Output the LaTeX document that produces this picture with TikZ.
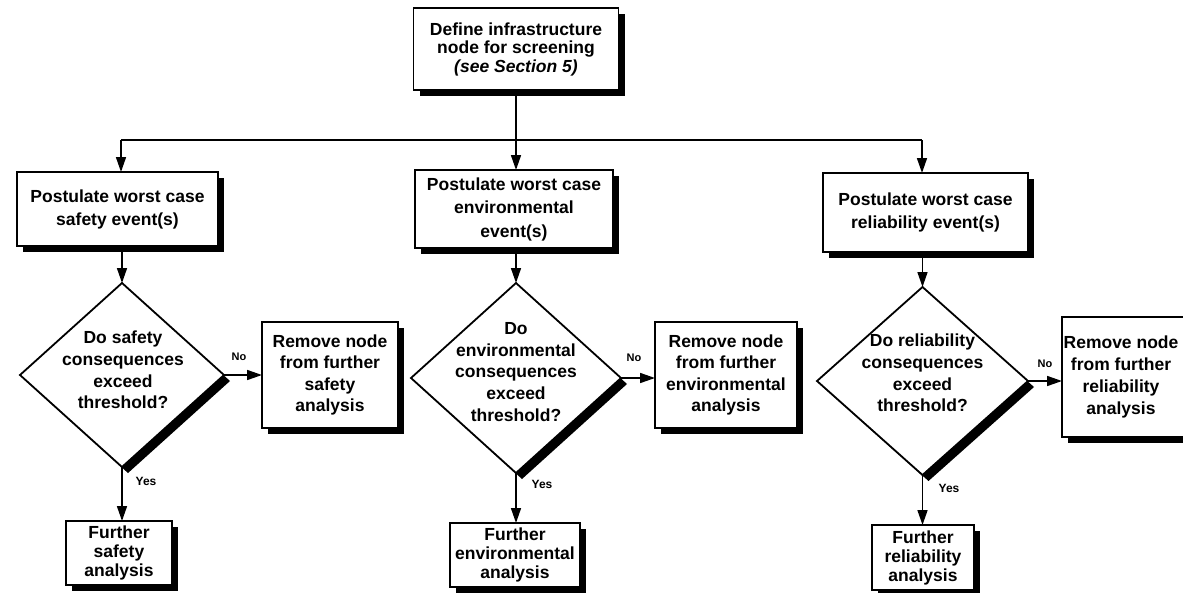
\documentclass[tikz,border=0pt]{standalone}
\usepackage{fontspec}
\setmainfont{Liberation Sans}
\usetikzlibrary{arrows.meta,shapes.geometric,shadows}

\begin{document}
\begin{tikzpicture}[x=1pt,y=-1pt,
  shade/.style={drop shadow={shadow xshift=6pt,shadow yshift=-6pt,opacity=1,fill=black}},
  box/.style={draw,line width=1.8pt,fill=white,shade,inner sep=0pt,outer sep=0pt,
    align=center,font=\bfseries\fontsize{17.5}{21.5}\selectfont},
  dia/.style={diamond,draw,line width=1.8pt,fill=white,shade,inner sep=0pt,outer sep=0pt},
  txt/.style={align=center,inner sep=0pt,font=\bfseries\fontsize{17.5}{21.7}\selectfont},
  lbl/.style={inner sep=0pt,font=\bfseries\fontsize{11}{12}\selectfont},
  conn/.style={line width=1.6pt},
  arr/.style={line width=1.6pt,-{Triangle[length=15pt,width=10pt]}}]

\clip (0,0) rectangle (1183,592);
\fill[white] (0,0) rectangle (1183,592);

% starting box
\node[box,minimum width=205pt,minimum height=82pt,
  font=\bfseries\fontsize{17.5}{18.5}\selectfont] (top) at (516,49)
  {Define infrastructure\\node for screening\\\textit{(see Section 5)}};

% event boxes
\node[box,minimum width=201pt,minimum height=74pt,
  font=\bfseries\fontsize{17.5}{23}\selectfont] (sf) at (117.5,209)
  {Postulate worst case\\safety event(s)};
\node[box,minimum width=198pt,minimum height=78pt,
  font=\bfseries\fontsize{17.5}{23.5}\selectfont] (ev) at (514,209)
  {Postulate worst case\\environmental\\event(s)};
\node[box,minimum width=205pt,minimum height=79pt,
  font=\bfseries\fontsize{17.5}{23}\selectfont] (rl) at (925.5,212.5)
  {Postulate worst case\\reliability event(s)};

% decisions
\node[dia,minimum width=204pt,minimum height=184pt] (d1) at (122,375) {};
\node[txt] (d1t) at (123,370) {Do safety\\consequences\\exceed\\threshold?};
\node[dia,minimum width=210pt,minimum height=190pt] (d2) at (516,378) {};
\node[txt] (d2t) at (516,372) {Do\\environmental\\consequences\\exceed\\threshold?};
\node[dia,minimum width=211pt,minimum height=188pt] (d3) at (922.5,381) {};
\node[txt] (d3t) at (922.5,373) {Do reliability\\consequences\\exceed\\threshold?};

% removal boxes
\node[box,minimum width=136pt,minimum height=106pt] (r1) at (330,375)
  {Remove node\\from further\\safety\\analysis};
\node[box,minimum width=142pt,minimum height=106pt] (r2) at (726,375)
  {Remove node\\from further\\environmental\\analysis};
% the last box runs past the right margin; its text is kept inside
\node[box,minimum width=138pt,minimum height=120pt] (r3) at (1131,377) {};
\node[txt] (r3t) at (1121,377)
  {Remove node\\from further\\reliability\\analysis};

% further analysis boxes
\node[box,minimum width=106pt,minimum height=64pt,
  font=\bfseries\fontsize{17.5}{19}\selectfont] (f1) at (119,553)
  {Further\\safety\\analysis};
\node[box,minimum width=130pt,minimum height=64pt,
  font=\bfseries\fontsize{17.5}{19}\selectfont] (f2) at (515,555)
  {Further\\environmental\\analysis};
\node[box,minimum width=102pt,minimum height=65pt,
  font=\bfseries\fontsize{17.5}{19}\selectfont] (f3) at (923,557.5)
  {Further\\reliability\\analysis};

% branch lines
\coordinate (jl) at (121,140);
\coordinate (jr) at (922,140);
\draw[conn] (jl) -- (jr);
\draw[arr] (top.south) -- (top.south |- ev.north);
\draw[arr] (jl) -- (jl |- sf.north);
\draw[arr] (jr) -- (jr |- rl.north);

\draw[arr] (d1.north |- sf.south) -- (d1.north);
\draw[arr] (d2.north |- ev.south) -- (d2.north);
\draw[arr] (d3.north |- rl.south) -- (d3.north);

% "No" branches
\draw[arr] (d1.east) -- (d1.east -| r1.west);
\draw[arr] (d2.east) -- (d2.east -| r2.west);
\draw[arr] (d3.east) -- (d3.east -| r3.west);
\node[lbl] (n1) at (239,357) {No};
\node[lbl] (n2) at (634,358) {No};
\node[lbl] (n3) at (1045,364) {No};

% "Yes" branches
\draw[arr] (d1.south) -- (d1.south |- f1.north);
\draw[arr] (d2.south) -- (d2.south |- f2.north);
\draw[arr] (d3.south) -- (d3.south |- f3.north);
\node[lbl,font=\bfseries\fontsize{12}{13}\selectfont] (y1) at (146,481) {Yes};
\node[lbl,font=\bfseries\fontsize{12}{13}\selectfont] (y2) at (542,484) {Yes};
\node[lbl,font=\bfseries\fontsize{12}{13}\selectfont] (y3) at (949,488) {Yes};

\end{tikzpicture}
\end{document}
